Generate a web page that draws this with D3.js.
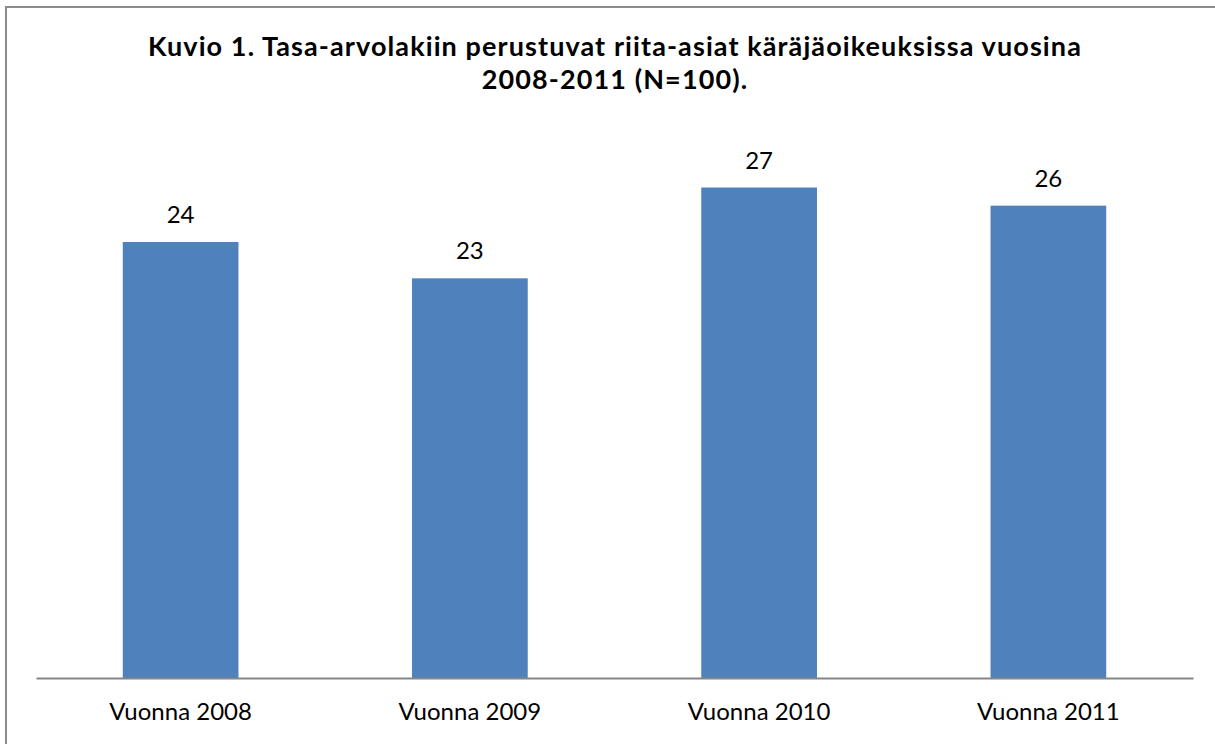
<!DOCTYPE html>
<html>
<head>
<meta charset="utf-8">
<script src="https://cdn.jsdelivr.net/npm/d3@7"></script>
<style>
  body { margin: 0; background: #fff; overflow: hidden; }
  svg { display: block; }
</style>
</head>
<body>
<svg width="1215" height="744"></svg>
<script>
// chart data
var categories = ["Vuonna 2008", "Vuonna 2009", "Vuonna 2010", "Vuonna 2011"];
var values = [24, 22, 27, 26];            // bar heights as drawn
var valueLabels = ["24", "23", "27", "26"]; // data labels as printed
var titleLines = [
  "Kuvio 1. Tasa-arvolakiin perustuvat riita-asiat käräjäoikeuksissa vuosina",
  "2008-2011 (N=100)."
];

var svg = d3.select("svg"),
    width = +svg.attr("width"),
    height = +svg.attr("height");

var font = "Lato, 'Open Sans', sans-serif";

// outer frame: only top and left edges are inside the picture
svg.append("path")
    .attr("d", "M6," + height + "V7H" + width)
    .attr("fill", "none")
    .attr("stroke", "#8c8c8c")
    .attr("stroke-width", 2);

// plot area
var plot = {left: 36, right: 1193, top: 133, bottom: 678};

var x = d3.scaleBand()
    .domain(categories)
    .range([plot.left, plot.right])
    .paddingInner(0.6)
    .paddingOuter(0.3);

var y = d3.scaleLinear()
    .domain([0, 30])
    .range([plot.bottom, plot.top]);

// title
svg.append("g")
    .selectAll("text")
    .data(titleLines)
    .join("text")
    .attr("x", 615)
    .attr("y", (d, i) => 56 + i * 33)
    .attr("text-anchor", "middle")
    .attr("font-family", font)
    .attr("font-weight", "bold")
    .attr("font-size", 27)
    .attr("letter-spacing", 1.1)
    .attr("fill", "#000")
    .text(d => d);

// bars
svg.append("g")
    .selectAll("rect")
    .data(values)
    .join("rect")
    .attr("x", (d, i) => x(categories[i]))
    .attr("y", d => y(d))
    .attr("width", x.bandwidth())
    .attr("height", d => y(0) - y(d))
    .attr("fill", "#4f81bd");

// data labels
svg.append("g")
    .selectAll("text")
    .data(values)
    .join("text")
    .attr("x", (d, i) => x(categories[i]) + x.bandwidth() / 2)
    .attr("y", d => y(d) - 19)
    .attr("text-anchor", "middle")
    .attr("font-family", font)
    .attr("font-size", 24)
    .attr("fill", "#000")
    .text((d, i) => valueLabels[i]);

// category axis
var xAxis = svg.append("g")
    .attr("transform", "translate(0," + plot.bottom + ")")
    .call(d3.axisBottom(x).tickSize(0));

xAxis.select(".domain")
    .attr("stroke", "#868686")
    .attr("stroke-width", 2);

xAxis.selectAll("text")
    .attr("y", 42)
    .attr("dy", 0)
    .attr("font-family", font)
    .attr("font-size", 24)
    .attr("fill", "#000");
</script>
</body>
</html>
